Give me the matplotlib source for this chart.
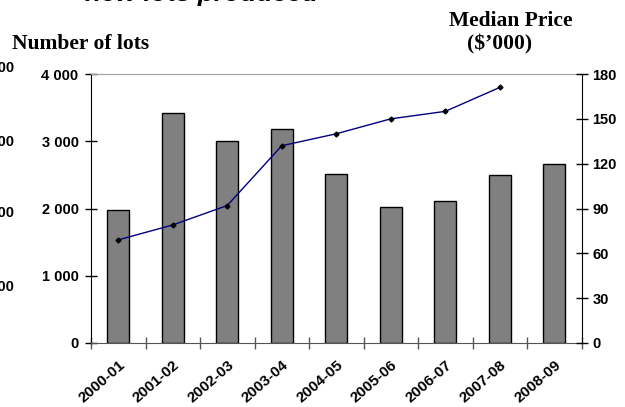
import matplotlib
matplotlib.use("Agg")
import matplotlib.pyplot as plt
from matplotlib.transforms import ScaledTranslation
import numpy as np

years = ["2000-01", "2001-02", "2002-03", "2003-04", "2004-05",
         "2005-06", "2006-07", "2007-08", "2008-09"]
lots = [1980, 3425, 3005, 3180, 2520, 2025, 2110, 2500, 2660]
median_price = [69, 79, 92, 132, 140, 150, 155, 171]
lot_ticks = [0, 1000, 2000, 3000, 4000]
lot_tick_labels = ["0", "1 000", "2 000", "3 000", "4 000"]
price_ticks = [0, 30, 60, 90, 120, 150, 180]

W, H = 625, 407
fig = plt.figure(figsize=(W / 100, H / 100), dpi=100)
fig.patch.set_facecolor("white")

L, R, T, B = 91, 581.5, 74, 343
ax = fig.add_axes([L / W, 1 - B / H, (R - L) / W, (B - T) / H])
ax2 = ax.twinx()

sans = "Liberation Sans"
serif = "Liberation Serif"
tick_fs = 10.5

x = np.arange(len(years)) + 0.5
ax.bar(x, lots, width=0.41, color="#808080", edgecolor="black", linewidth=1.0, zorder=2)
ax.set_xlim(0, len(years))
ax.set_ylim(0, 4000)
ax.set_yticks(lot_ticks)
ax.set_yticklabels(lot_tick_labels, fontfamily=sans, fontweight="bold", fontsize=tick_fs)

# category boundaries carry the ticks, labels sit under each bar
ax.set_xticks(np.arange(len(years) + 1))
ax.set_xticklabels([])
ax.set_xticks(x, minor=True)
ax.set_xticklabels(years, minor=True, rotation=41, ha="right", rotation_mode="anchor",
                   fontfamily=sans, fontweight="bold", fontsize=11)
shift = ScaledTranslation(-10 / 100, 0, fig.dpi_scale_trans)
for lab in ax.get_xticklabels(minor=True):
    lab.set_transform(lab.get_transform() + shift)
ax.tick_params(axis="x", which="minor", length=0, pad=11)
ax.tick_params(axis="x", which="major", direction="inout", length=9, width=1, color="#555555")
ax.tick_params(axis="y", direction="inout", length=8, width=1, pad=5)

ax.spines["left"].set_color("black")
ax.spines["bottom"].set_color("#555555")
ax.spines["top"].set_color("#a0a0a0")
ax.spines["right"].set_visible(False)

xp = x[:len(median_price)]
ax2.plot(xp, median_price, color="#000080", linewidth=1.0, zorder=3)
ax2.plot(xp, median_price, linestyle="none", marker="D", markersize=2.5,
         color="black", zorder=4)
ax2.set_ylim(0, 180)
ax2.set_yticks(price_ticks)
ax2.set_yticklabels([str(v) for v in price_ticks], fontfamily=sans, fontweight="bold",
                    fontsize=tick_fs)
ax2.tick_params(axis="y", direction="inout", length=8, width=1, pad=4)
ax2.spines["right"].set_color("black")
for s in ["top", "left", "bottom"]:
    ax2.spines[s].set_visible(False)

fig.text(12 / W, 1 - 44 / H, "Number of lots", fontfamily=serif, fontweight="bold",
         fontsize=15.5, ha="left", va="center")
fig.text(511 / W, 1 - 21 / H, "Median Price", fontfamily=serif, fontweight="bold",
         fontsize=15.5, ha="center", va="center")
fig.text(500 / W, 1 - 44 / H, "($\u2019000)", fontfamily=serif, fontweight="bold",
         fontsize=15.5, ha="center", va="center")

fig.text(85 / W, 1 - 1.2 / H, "new lots produced", fontfamily=sans, fontweight="bold",
         fontstyle="italic", fontsize=19, ha="left", va="baseline")

for yy, lab in zip([68, 142, 213, 287], ["4 000", "3 000", "2 000", "1 000"]):
    fig.text(14 / W, 1 - yy / H, lab, fontfamily=sans, fontweight="bold",
             fontsize=tick_fs, ha="right", va="center")

fig.savefig("out.png", dpi=100, facecolor="white")
